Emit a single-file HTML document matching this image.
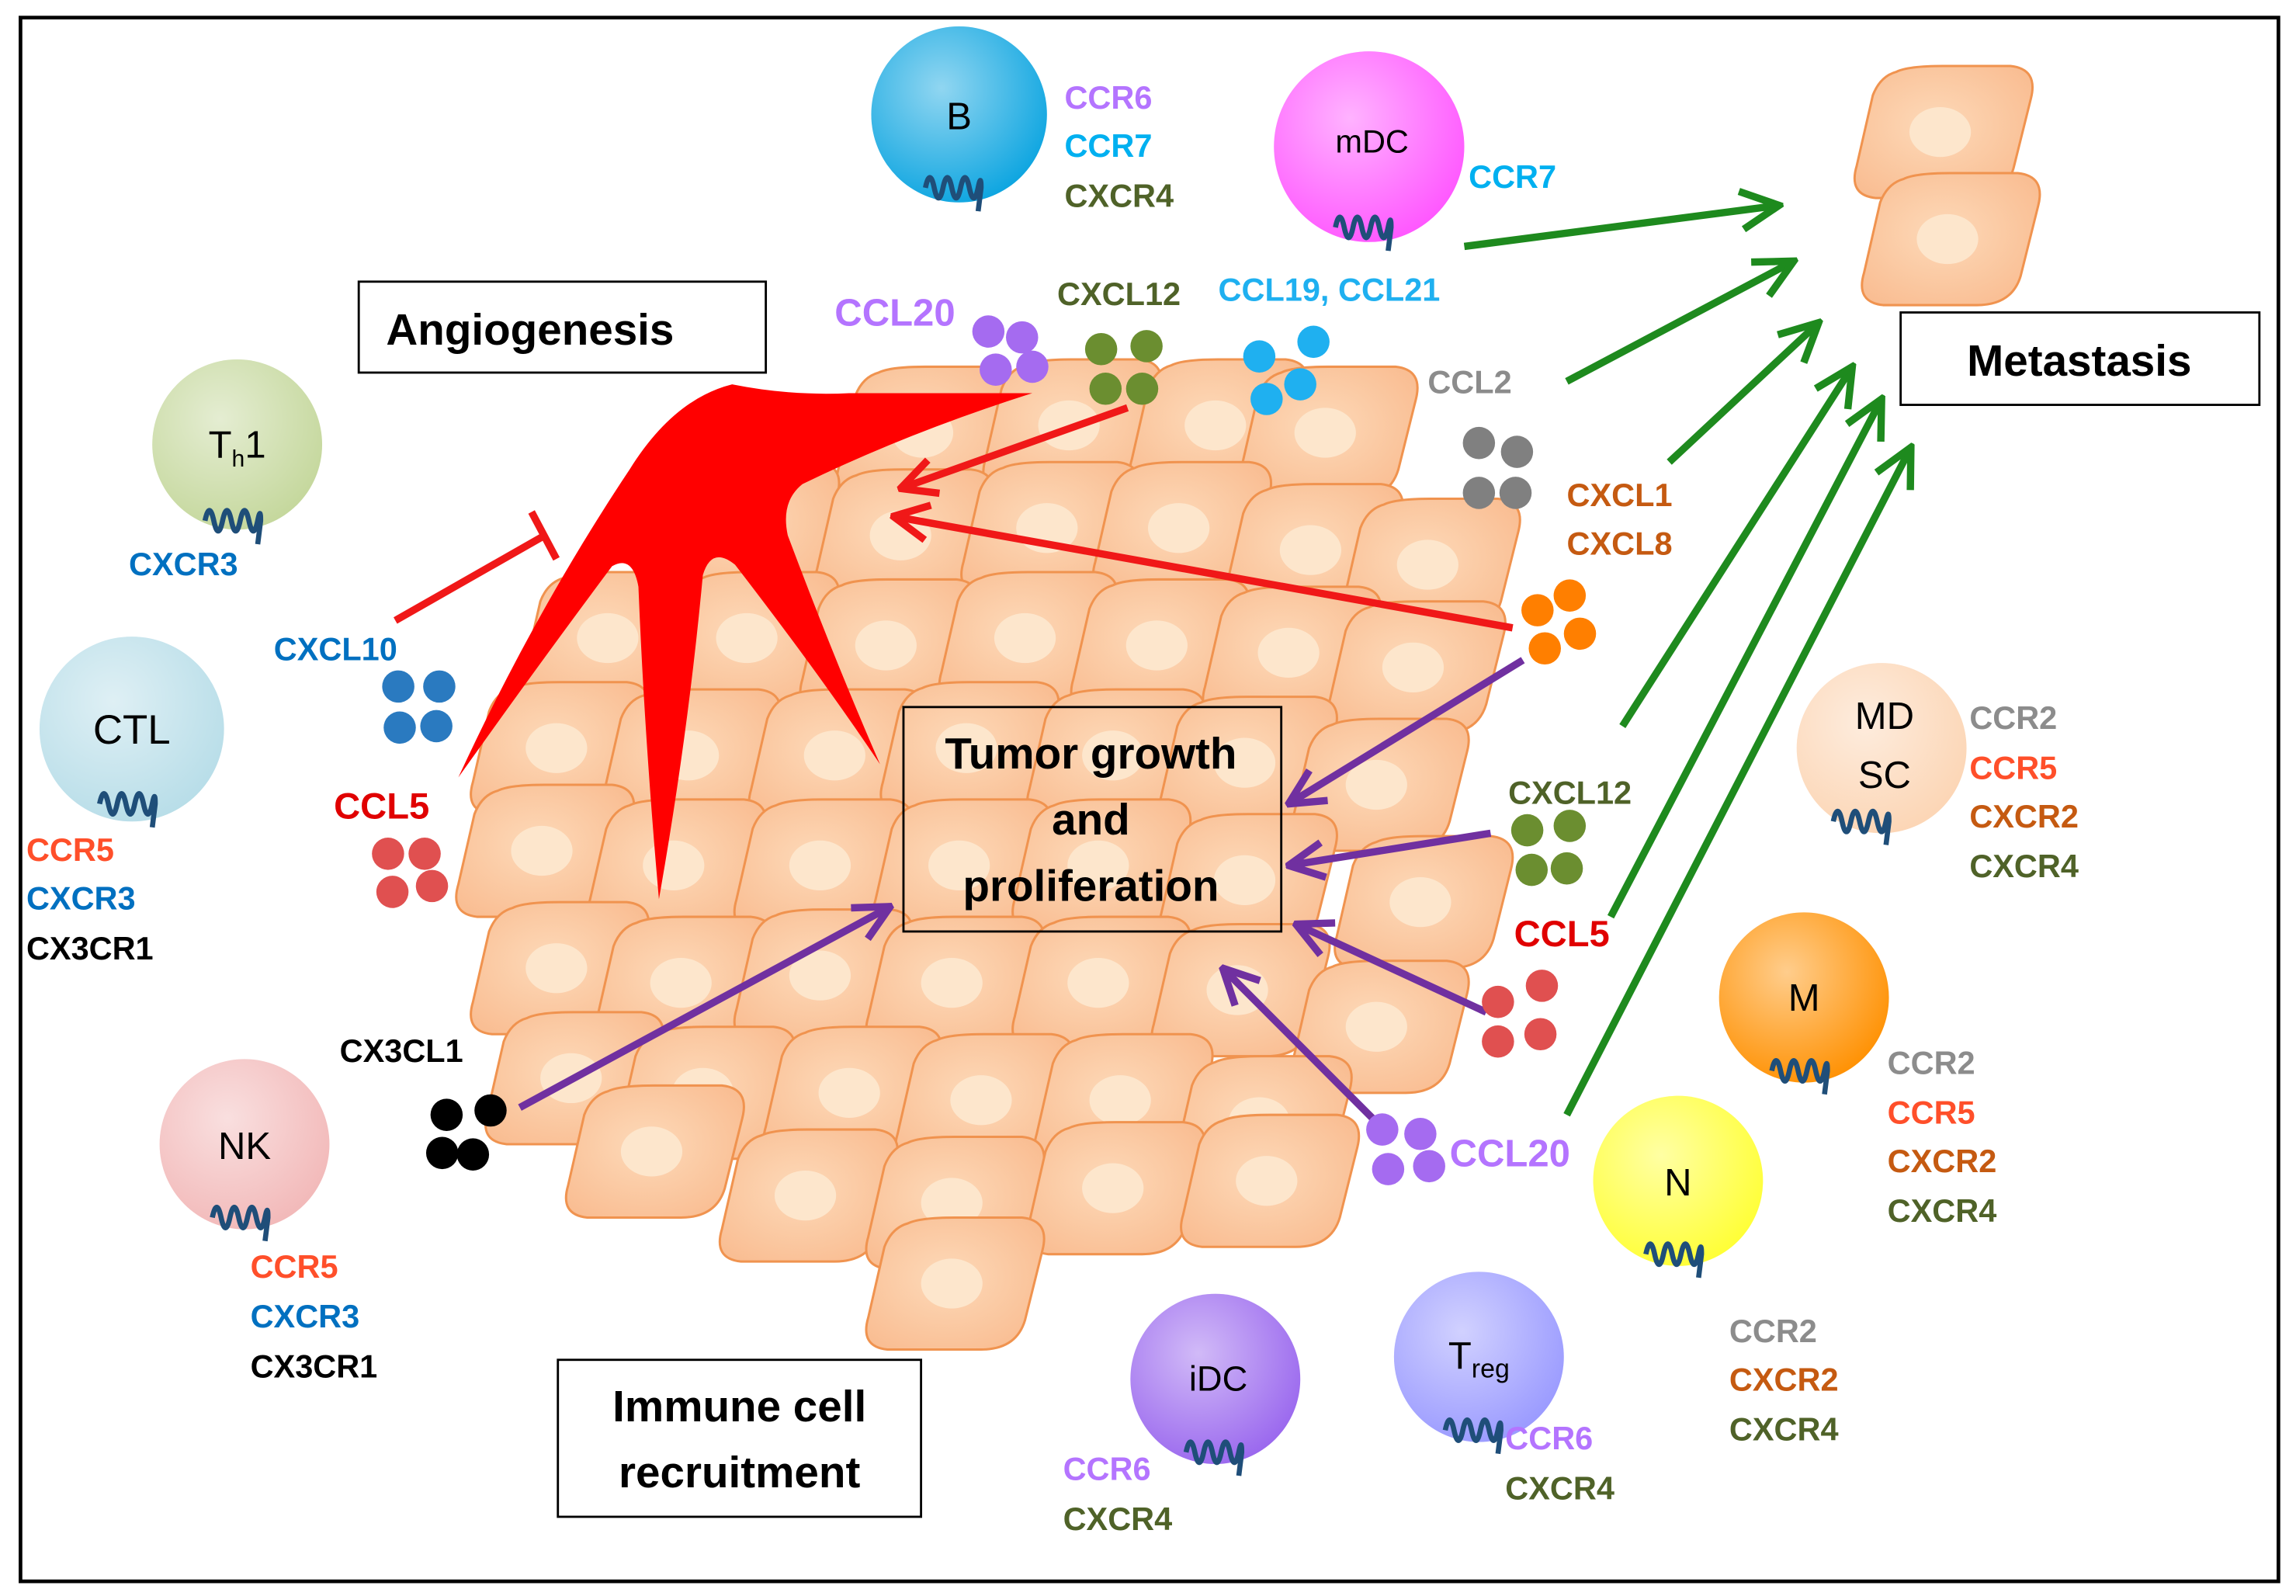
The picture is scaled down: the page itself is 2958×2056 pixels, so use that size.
<!DOCTYPE html>
<html><head><meta charset="utf-8">
<style>
html,body{margin:0;padding:0;background:#fff;}
svg{display:block;}
text{font-family:"Liberation Sans",sans-serif;}
.b{font-weight:bold;font-size:22px;}
.box{font-weight:bold;font-size:30px;fill:#000;}
.cl{font-size:26px;fill:#000;}
</style></head><body>
<svg width="2958" height="2056" viewBox="0 0 1568 1088" preserveAspectRatio="none" xmlns="http://www.w3.org/2000/svg">
<defs>
<radialGradient id="cg" cx="45%" cy="45%" r="65%"><stop offset="0" stop-color="#fdd9b8"/><stop offset="1" stop-color="#f9bd92"/></radialGradient>
<g id="cell">
<path d="M30,4 Q38,0 62,0 L108,0 Q127,2 122,22 L110,70 Q104,90 80,90 L16,90 Q-3,88 3,68 L14,20 Q19,7 30,4 Z" fill="url(#cg)" stroke="#f0934f" stroke-width="1.6"/>
<ellipse cx="60" cy="45" rx="21" ry="17" fill="#fde6cc"/>
</g>
<g id="rec"><path d="M0,0 q3,-14 6,0 q3,14 6,0 q3,-14 6,0 q3,14 6,0 q3,-14 6,0 q3,14 6,0 q2,-10 2,0 l-2,16" fill="none" stroke="#1f4e79" stroke-width="3.5"/></g>
<marker id="ar" markerWidth="30" markerHeight="30" refX="28" refY="15" orient="auto" markerUnits="userSpaceOnUse"><path d="M4,3 L28,15 L4,27" fill="none" stroke="#f01818" stroke-width="5"/></marker>
<marker id="ap" markerWidth="30" markerHeight="30" refX="28" refY="15" orient="auto" markerUnits="userSpaceOnUse"><path d="M4,3 L28,15 L4,27" fill="none" stroke="#7030a0" stroke-width="5"/></marker>
<marker id="gg" markerWidth="34" markerHeight="34" refX="31" refY="17" orient="auto" markerUnits="userSpaceOnUse"><path d="M5,4 L31,17 L5,30" fill="none" stroke="#1e8a1e" stroke-width="5"/></marker>
<radialGradient id="g1" cx="40%" cy="35%" r="70%"><stop offset="0" stop-color="#fff" stop-opacity=".55"/><stop offset="1" stop-color="#fff" stop-opacity="0"/></radialGradient>
</defs>
<rect x="14" y="12" width="1542" height="1066" fill="#fff" stroke="#000" stroke-width="2.5"/>

<g>
<use href="#cell" x="570" y="250"/><use href="#cell" x="670" y="245"/><use href="#cell" x="770" y="245"/><use href="#cell" x="845" y="250"/>
<use href="#cell" x="450" y="315"/><use href="#cell" x="555" y="320"/><use href="#cell" x="655" y="315"/><use href="#cell" x="745" y="315"/><use href="#cell" x="835" y="330"/><use href="#cell" x="915" y="340"/>
<use href="#cell" x="355" y="390"/><use href="#cell" x="450" y="390"/><use href="#cell" x="545" y="395"/><use href="#cell" x="640" y="390"/><use href="#cell" x="730" y="395"/><use href="#cell" x="820" y="400"/><use href="#cell" x="905" y="410"/>
<use href="#cell" x="320" y="465"/><use href="#cell" x="410" y="470"/><use href="#cell" x="510" y="470"/><use href="#cell" x="600" y="465"/><use href="#cell" x="700" y="470"/><use href="#cell" x="790" y="475"/><use href="#cell" x="880" y="490"/>
<use href="#cell" x="310" y="535"/><use href="#cell" x="400" y="545"/><use href="#cell" x="500" y="545"/><use href="#cell" x="595" y="545"/><use href="#cell" x="690" y="545"/><use href="#cell" x="790" y="555"/><use href="#cell" x="910" y="570"/>
<use href="#cell" x="320" y="615"/><use href="#cell" x="405" y="625"/><use href="#cell" x="500" y="620"/><use href="#cell" x="590" y="625"/><use href="#cell" x="690" y="625"/><use href="#cell" x="785" y="630"/><use href="#cell" x="880" y="655"/>
<use href="#cell" x="330" y="690"/><use href="#cell" x="420" y="700"/><use href="#cell" x="520" y="700"/><use href="#cell" x="610" y="705"/><use href="#cell" x="705" y="705"/><use href="#cell" x="800" y="720"/>
<use href="#cell" x="385" y="740"/><use href="#cell" x="490" y="770"/><use href="#cell" x="590" y="775"/><use href="#cell" x="700" y="765"/><use href="#cell" x="805" y="760"/>
<use href="#cell" x="590" y="830"/>
</g>
<use href="#cell" x="1265" y="45"/><use href="#cell" x="1270" y="118"/>

<path d="M313,530 C350,450 390,380 430,320 Q460,272 500,262 Q540,270 580,268 L705,268 Q620,295 548,330 Q533,342 538,365 Q570,450 601,521 Q560,460 502,385 Q486,372 480,392 Q470,500 450,613 Q440,500 436,400 Q432,378 418,386 Q370,450 313,530 Z" fill="#ff0000"/>

<rect x="245" y="192" width="278" height="62" fill="#fff" stroke="#000" stroke-width="1.5"/>
<text x="362" y="235" class="box" text-anchor="middle">Angiogenesis</text>
<rect x="1298" y="213" width="245" height="63" fill="#fff" stroke="#000" stroke-width="1.5"/>
<text x="1420" y="256" class="box" text-anchor="middle">Metastasis</text>
<rect x="617" y="482" width="258" height="153" fill="none" stroke="#000" stroke-width="1.5"/>
<text x="745" y="524" class="box" text-anchor="middle">Tumor growth</text>
<text x="745" y="569" class="box" text-anchor="middle">and</text>
<text x="745" y="614" class="box" text-anchor="middle">proliferation</text>
<rect x="381" y="927" width="248" height="107" fill="#fff" stroke="#000" stroke-width="1.5"/>
<text x="505" y="969" class="box" text-anchor="middle">Immune cell</text>
<text x="505" y="1014" class="box" text-anchor="middle">recruitment</text>

<g stroke="#1e8a1e" stroke-width="5" fill="none" marker-end="url(#gg)">
<line x1="1000" y1="168" x2="1215" y2="140"/>
<line x1="1070" y1="260" x2="1225" y2="178"/>
<line x1="1140" y1="315" x2="1242" y2="220"/>
<line x1="1108" y1="495" x2="1265" y2="250"/>
<line x1="1100" y1="625" x2="1285" y2="272"/>
<line x1="1070" y1="760" x2="1305" y2="305"/>
</g>
<g stroke="#f01818" stroke-width="5" fill="none">
<line x1="770" y1="278" x2="615" y2="333" marker-end="url(#ar)"/>
<line x1="1033" y1="428" x2="610" y2="352" marker-end="url(#ar)"/>
<line x1="270" y1="423" x2="372" y2="365"/>
<line x1="363" y1="349" x2="380" y2="381"/>
</g>
<g stroke="#7030a0" stroke-width="5" fill="none" marker-end="url(#ap)">
<line x1="1040" y1="450" x2="880" y2="548"/>
<line x1="1018" y1="568" x2="880" y2="590"/>
<line x1="1015" y1="690" x2="885" y2="630"/>
<line x1="945" y1="770" x2="835" y2="660"/>
<line x1="355" y1="755" x2="608" y2="618"/>
</g>

<g fill="#a56bf0"><circle cx="675" cy="226" r="11"/><circle cx="698" cy="230" r="11"/><circle cx="680" cy="252" r="11"/><circle cx="705" cy="250" r="11"/></g>
<g fill="#6b8e30"><circle cx="752" cy="238" r="11"/><circle cx="783" cy="236" r="11"/><circle cx="755" cy="265" r="11"/><circle cx="780" cy="265" r="11"/></g>
<g fill="#1fb0f0"><circle cx="860" cy="243" r="11"/><circle cx="897" cy="233" r="11"/><circle cx="865" cy="272" r="11"/><circle cx="888" cy="262" r="11"/></g>
<g fill="#808080"><circle cx="1010" cy="302" r="11"/><circle cx="1036" cy="308" r="11"/><circle cx="1010" cy="336" r="11"/><circle cx="1035" cy="336" r="11"/></g>
<g fill="#ff7f00"><circle cx="1050" cy="416" r="11"/><circle cx="1072" cy="406" r="11"/><circle cx="1055" cy="442" r="11"/><circle cx="1079" cy="432" r="11"/></g>
<g fill="#6b8e30"><circle cx="1043" cy="566" r="11"/><circle cx="1072" cy="563" r="11"/><circle cx="1046" cy="593" r="11"/><circle cx="1070" cy="592" r="11"/></g>
<g fill="#e05050"><circle cx="1023" cy="683" r="11"/><circle cx="1053" cy="672" r="11"/><circle cx="1023" cy="710" r="11"/><circle cx="1052" cy="705" r="11"/></g>
<g fill="#a56bf0"><circle cx="944" cy="770" r="11"/><circle cx="970" cy="773" r="11"/><circle cx="948" cy="797" r="11"/><circle cx="976" cy="795" r="11"/></g>
<g fill="#2a7ac0"><circle cx="272" cy="468" r="11"/><circle cx="300" cy="468" r="11"/><circle cx="273" cy="496" r="11"/><circle cx="298" cy="495" r="11"/></g>
<g fill="#e05050"><circle cx="265" cy="582" r="11"/><circle cx="290" cy="582" r="11"/><circle cx="268" cy="608" r="11"/><circle cx="295" cy="604" r="11"/></g>
<g fill="#000"><circle cx="305" cy="760" r="11"/><circle cx="335" cy="757" r="11"/><circle cx="302" cy="786" r="11"/><circle cx="323" cy="787" r="11"/></g>

<text x="570" y="222" class="b" fill="#b474ff" style="font-size:26px">CCL20</text>
<text x="722" y="208" class="b" fill="#4f6228">CXCL12</text>
<text x="832" y="205" class="b" fill="#1fb0f0">CCL19, CCL21</text>
<text x="975" y="268" class="b" fill="#8c8c8c">CCL2</text>
<text x="1070" y="345" class="b" fill="#c55a11">CXCL1</text>
<text x="1070" y="378" class="b" fill="#c55a11">CXCL8</text>
<text x="1030" y="548" class="b" fill="#4f6228">CXCL12</text>
<text x="1034" y="645" class="b" fill="#e00000" style="font-size:25px">CCL5</text>
<text x="990" y="795" class="b" fill="#b474ff" style="font-size:26px">CCL20</text>
<text x="187" y="450" class="b" fill="#0070c0">CXCL10</text>
<text x="228" y="558" class="b" fill="#e00000" style="font-size:25px">CCL5</text>
<text x="232" y="724" class="b" fill="#000">CX3CL1</text>

<g>
<circle cx="655" cy="78" r="60" fill="#0aa4e0"/><circle cx="655" cy="78" r="60" fill="url(#g1)"/>
<text x="655" y="88" class="cl" text-anchor="middle">B</text><use href="#rec" x="632" y="128"/>
<text x="727" y="74" class="b" fill="#b474ff">CCR6</text>
<text x="727" y="107" class="b" fill="#00b0f0">CCR7</text>
<text x="727" y="141" class="b" fill="#4f6228">CXCR4</text>

<circle cx="935" cy="100" r="65" fill="#ff55ff"/><circle cx="935" cy="100" r="65" fill="url(#g1)"/>
<text x="937" y="104" class="cl" text-anchor="middle" style="font-size:22px">mDC</text><use href="#rec" x="912" y="155"/>
<text x="1003" y="128" class="b" fill="#00b0f0">CCR7</text>

<circle cx="162" cy="303" r="58" fill="#c4d79b"/><circle cx="162" cy="303" r="58" fill="url(#g1)"/>
<text x="162" y="312" class="cl" text-anchor="middle">T<tspan font-size="16" dy="6">h</tspan><tspan dy="-6">1</tspan></text><use href="#rec" x="140" y="355"/>
<text x="88" y="392" class="b" fill="#0070c0">CXCR3</text>

<circle cx="90" cy="497" r="63" fill="#b7dde8"/><circle cx="90" cy="497" r="63" fill="url(#g1)"/>
<text x="90" y="507" class="cl" text-anchor="middle" style="font-size:28px">CTL</text><use href="#rec" x="68" y="548"/>
<text x="18" y="587" class="b" fill="#ff4f2a">CCR5</text>
<text x="18" y="620" class="b" fill="#0070c0">CXCR3</text>
<text x="18" y="654" class="b" fill="#000">CX3CR1</text>

<circle cx="167" cy="780" r="58" fill="#f2b8b8"/><circle cx="167" cy="780" r="58" fill="url(#g1)"/>
<text x="167" y="790" class="cl" text-anchor="middle">NK</text><use href="#rec" x="145" y="830"/>
<text x="171" y="871" class="b" fill="#ff4f2a">CCR5</text>
<text x="171" y="905" class="b" fill="#0070c0">CXCR3</text>
<text x="171" y="939" class="b" fill="#000">CX3CR1</text>

<circle cx="1285" cy="510" r="58" fill="#fcd5b4"/><circle cx="1285" cy="510" r="58" fill="url(#g1)"/>
<text x="1287" y="497" class="cl" text-anchor="middle">MD</text><text x="1287" y="537" class="cl" text-anchor="middle">SC</text><use href="#rec" x="1252" y="560"/>
<text x="1345" y="497" class="b" fill="#8c8c8c">CCR2</text>
<text x="1345" y="531" class="b" fill="#ff4f2a">CCR5</text>
<text x="1345" y="564" class="b" fill="#c55a11">CXCR2</text>
<text x="1345" y="598" class="b" fill="#4f6228">CXCR4</text>

<circle cx="1232" cy="680" r="58" fill="#ff9000"/><circle cx="1232" cy="680" r="58" fill="url(#g1)"/>
<text x="1232" y="689" class="cl" text-anchor="middle">M</text><use href="#rec" x="1210" y="730"/>
<text x="1289" y="732" class="b" fill="#8c8c8c">CCR2</text>
<text x="1289" y="766" class="b" fill="#ff4f2a">CCR5</text>
<text x="1289" y="799" class="b" fill="#c55a11">CXCR2</text>
<text x="1289" y="833" class="b" fill="#4f6228">CXCR4</text>

<circle cx="1146" cy="805" r="58" fill="#ffff33"/><circle cx="1146" cy="805" r="58" fill="url(#g1)"/>
<text x="1146" y="815" class="cl" text-anchor="middle">N</text><use href="#rec" x="1124" y="855"/>
<text x="1181" y="915" class="b" fill="#8c8c8c">CCR2</text>
<text x="1181" y="948" class="b" fill="#c55a11">CXCR2</text>
<text x="1181" y="982" class="b" fill="#4f6228">CXCR4</text>

<circle cx="830" cy="940" r="58" fill="#9966ee"/><circle cx="830" cy="940" r="58" fill="url(#g1)"/>
<text x="832" y="948" class="cl" text-anchor="middle" style="font-size:24px">iDC</text><use href="#rec" x="810" y="990"/>
<text x="726" y="1009" class="b" fill="#b474ff">CCR6</text>
<text x="726" y="1043" class="b" fill="#4f6228">CXCR4</text>

<circle cx="1010" cy="925" r="58" fill="#9999ff"/><circle cx="1010" cy="925" r="58" fill="url(#g1)"/>
<text x="1010" y="933" class="cl" text-anchor="middle">T<tspan font-size="18" dy="6">reg</tspan></text><use href="#rec" x="987" y="975"/>
<text x="1028" y="988" class="b" fill="#b474ff">CCR6</text>
<text x="1028" y="1022" class="b" fill="#4f6228">CXCR4</text>
</g>
</svg>
</body></html>
